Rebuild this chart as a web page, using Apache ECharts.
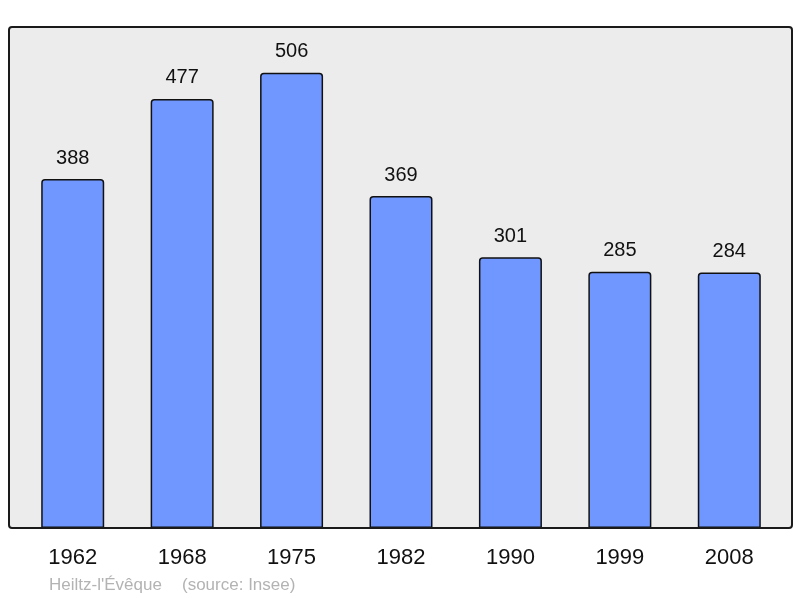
<!DOCTYPE html>
<html>
<head>
<meta charset="utf-8">
<script src="https://cdn.jsdelivr.net/npm/echarts@6/dist/echarts.min.js"></script>
<style>
  html, body { margin: 0; padding: 0; background: #fff; }
  #chart { width: 800px; height: 598px; }
</style>
</head>
<body>
<div id="chart"></div>
<script>
const years = ["1962", "1968", "1975", "1982", "1990", "1999", "2008"];
const population = [388, 477, 506, 369, 301, 285, 284];
const placeName = "Heiltz-l'Évêque";
const sourceNote = "(source: Insee)";

const chart = echarts.init(document.getElementById("chart"), null, { renderer: "canvas" });

chart.setOption({
  animation: false,
  textStyle: { fontFamily: "Liberation Sans, Arial, sans-serif" },
  grid: { left: 18, right: 16, top: 27, bottom: 70 },
  xAxis: {
    type: "category",
    data: years,
    axisLine: { show: false },
    axisTick: { show: false },
    axisLabel: { color: "#111", fontSize: 22, margin: 19 },
  },
  yAxis: {
    type: "value",
    min: 0,
    max: 557,
    show: false,
    splitLine: { show: false },
  },
  series: [{
    type: "bar",
    data: population,
    barWidth: 63,
    z: 3,
    itemStyle: {
      color: "#7097ff",
      borderColor: "#111",
      borderWidth: 1.5,
      borderRadius: [3, 3, 0, 0],
    },
    label: {
      show: true,
      position: "top",
      distance: 11,
      color: "#111",
      fontSize: 20,
    },
  }],
  graphic: [
    {
      type: "rect",
      z: 0,
      silent: true,
      shape: { x: 9, y: 27, width: 783, height: 501, r: 3 },
      style: { fill: "#ececec", stroke: null },
    },
    {
      type: "rect",
      z: 10,
      silent: true,
      shape: { x: 9, y: 27, width: 783, height: 501, r: 3 },
      style: { fill: null, stroke: "#1a1a1a", lineWidth: 2 },
    },
    {
      type: "text",
      left: 49,
      top: 577,
      silent: true,
      style: {
        text: placeName,
        fill: "#b3b3b3",
        fontSize: 17,
        fontFamily: "Liberation Sans, Arial, sans-serif",
      },
    },
    {
      type: "text",
      left: 182,
      top: 577,
      silent: true,
      style: {
        text: sourceNote,
        fill: "#b3b3b3",
        fontSize: 17,
        fontFamily: "Liberation Sans, Arial, sans-serif",
      },
    },
  ],
});
</script>
</body>
</html>
